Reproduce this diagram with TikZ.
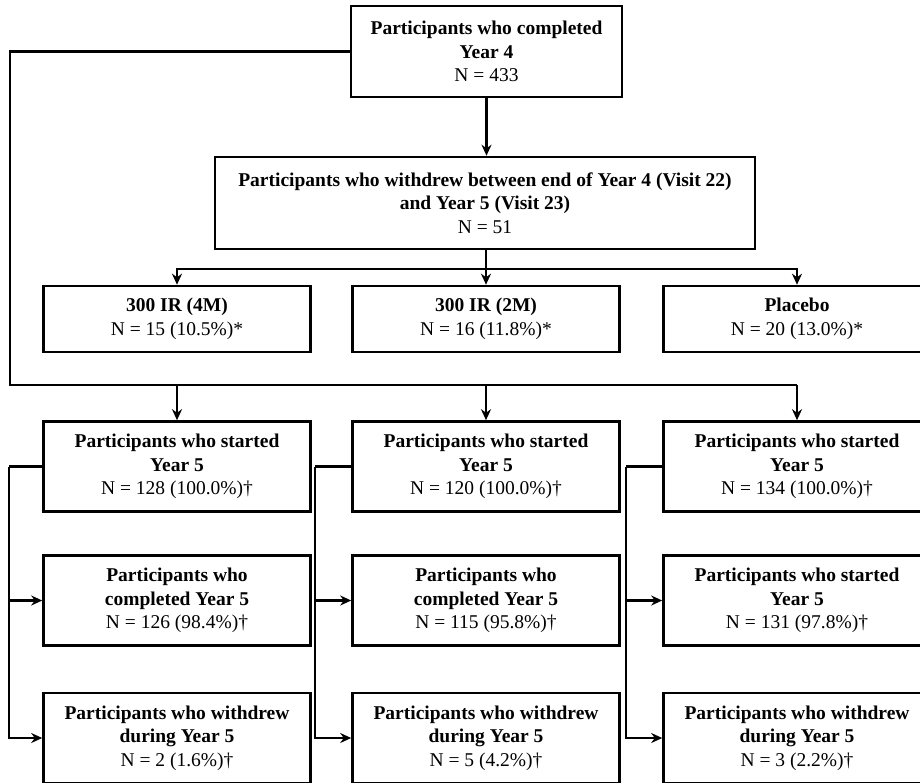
\documentclass[tikz,border=0pt]{standalone}
\usepackage{fontspec}
\setmainfont{Liberation Serif}
\usetikzlibrary{arrows.meta,calc}

\begin{document}
\begin{tikzpicture}[x=1pt,y=-1pt,
  box/.style={draw=black, line width=2.6pt, fill=white, align=center, inner sep=0pt,
              font=\fontsize{19.5}{23.5}\selectfont},
  armbox/.style={box, minimum width=267pt, minimum height=66pt},
  yrbox/.style={box, minimum width=267pt, minimum height=90pt},
  link/.style={draw=black, line width=2.3pt},
  arr/.style={link, -{Stealth[length=11pt,width=10pt]}}
]
\clip (0,0) rectangle (920,782);
\fill[white] (0,0) rectangle (920,782);

% top of the chart
\node[box, minimum width=271pt, minimum height=91pt] (top) at (486.5,51.5)
  {\textbf{Participants who completed}\\\textbf{Year 4}\\N = 433};
\node[box, minimum width=540pt, minimum height=92pt] (wd) at (485,203)
  {\textbf{Participants who withdrew between end of Year 4 (Visit 22)}\\
   \textbf{and Year 5 (Visit 23)}\\N = 51};

% treatment arms among withdrawals
\node[armbox] (a1) at (177,319) {\textbf{300 IR (4M)}\\N = 15 (10.5\%)*};
\node[armbox] (a2) at (486,319) {\textbf{300 IR (2M)}\\N = 16 (11.8\%)*};
\node[armbox] (a3) at (797,319) {\textbf{Placebo}\\N = 20 (13.0\%)*};

% Year 5 rows, one column per arm
\node[yrbox] (s1) at (177,466.5) {\textbf{Participants who started}\\\textbf{Year 5}\\N = 128 (100.0\%)\textdagger};
\node[yrbox] (s2) at (486,466.5) {\textbf{Participants who started}\\\textbf{Year 5}\\N = 120 (100.0\%)\textdagger};
\node[yrbox] (s3) at (797,466.5) {\textbf{Participants who started}\\\textbf{Year 5}\\N = 134 (100.0\%)\textdagger};

\node[yrbox] (c1) at (177,600.5) {\textbf{Participants who}\\\textbf{completed Year 5}\\N = 126 (98.4\%)\textdagger};
\node[yrbox] (c2) at (486,600.5) {\textbf{Participants who}\\\textbf{completed Year 5}\\N = 115 (95.8\%)\textdagger};
\node[yrbox] (c3) at (797,600.5) {\textbf{Participants who started}\\\textbf{Year 5}\\N = 131 (97.8\%)\textdagger};

\node[yrbox] (w1) at (177,738) {\textbf{Participants who withdrew}\\\textbf{during Year 5}\\N = 2 (1.6\%)\textdagger};
\node[yrbox] (w2) at (486,738) {\textbf{Participants who withdrew}\\\textbf{during Year 5}\\N = 5 (4.2\%)\textdagger};
\node[yrbox] (w3) at (797,738) {\textbf{Participants who withdrew}\\\textbf{during Year 5}\\N = 3 (2.2\%)\textdagger};

% top to withdrawals
\draw[arr] (top.south) -- (top.south |- wd.north);

% withdrawals split by arm
\draw[link] (wd.south -| a2.north) -- ++(0,19) coordinate (wj);
\draw[arr] (wj) -| (a1.north);
\draw[arr] (wj) -- (a2.north);
\draw[arr] (wj) -| (a3.north);

% completers of Year 4 routed round the left to the Year 5 starters
\coordinate (busL) at (10,385);
\coordinate (busR) at (797,385);
\draw[link] (top.west) -| (busL) -- (busR);
\draw[arr] (busL -| s1.north) -- (s1.north);
\draw[arr] (busL -| s2.north) -- (s2.north);
\draw[arr] (busR) -- (s3.north);

% outcome branches inside each column
\draw[link] (s1.west) -- ++(-33,0) coordinate (k1);
\draw[arr] (k1) |- (w1.west);
\draw[arr] (k1 |- c1.west) -- (c1.west);

\draw[link] (s2.west) -- ++(-36,0) coordinate (k2);
\draw[arr] (k2) |- (w2.west);
\draw[arr] (k2 |- c2.west) -- (c2.west);

\draw[link] (s3.west) -- ++(-36,0) coordinate (k3);
\draw[arr] (k3) |- (w3.west);
\draw[arr] (k3 |- c3.west) -- (c3.west);
\end{tikzpicture}
\end{document}
